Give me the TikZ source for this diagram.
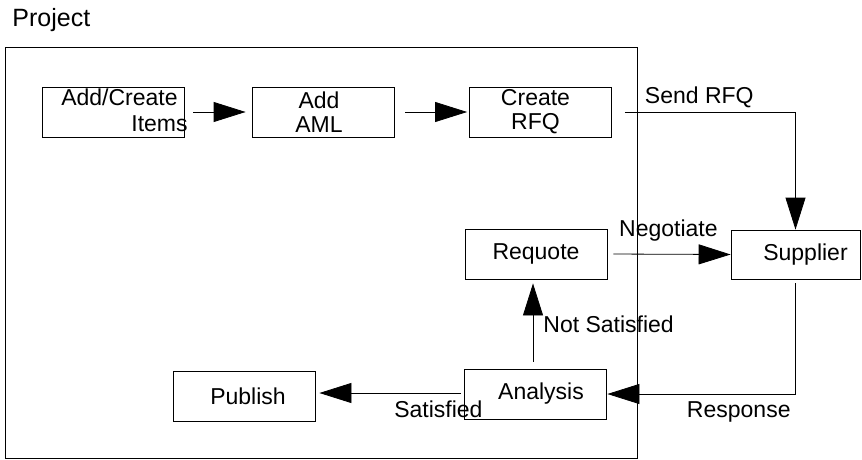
\documentclass[tikz,border=0pt]{standalone}
\usepackage{fontspec}
\setmainfont{Liberation Sans}
\usepackage{tikz}
\usetikzlibrary{arrows.meta}
\usetikzlibrary{positioning}

\begin{document}
\begin{tikzpicture}[
	x=1pt, y=-1pt,
	line width=0.8pt,
	font=\fontsize{23}{24}\selectfont
]
\tikzset{
    procbox/.style = {draw=black, align=center, minimum width=142pt, minimum height=50pt, inner sep=0pt},
		flowline/.style = {draw=black, -{Triangle[length=32pt,width=20pt]}},
		flowlabel/.style = {draw=none, inner sep=0pt, text=black}
}
\useasboundingbox (0,0) rectangle (862,460);
\node (title) [anchor=base west, inner sep=0pt, font=\fontsize{25}{27}\selectfont] at (12,27) {Project};
\draw (5,47) rectangle (637,458);
\node (items) [procbox] at (113,112) {};
\node (itemstext) [flowlabel, align=right, anchor=east, font=\fontsize{23}{26}\selectfont] at (188,110) {Add/Create\rule{10pt}{0pt}\\Items};
\node (aml) [procbox] at (323,112) {Add\rule{8pt}{0pt}\\AML\rule{8pt}{0pt}};
\node (rfq) [procbox] at (540.5,112) {Create\rule{10pt}{0pt}\\RFQ\rule{10pt}{0pt}};
\node (supplier) [procbox, minimum width=129pt, minimum height=49pt] at (795.5,254.5) {\rule{20pt}{0pt}Supplier};
\node (requote) [procbox] at (536,254) {Requote};
\node (analysis) [procbox] at (535,394) {\rule{12pt}{0pt}Analysis};
\node (publish) [procbox] at (244,396) {\rule{8pt}{0pt}Publish};

\draw[flowline, shorten <=9pt, shorten >=6pt] (items.east) -- (aml.west);
\draw[flowline, shorten <=11pt, shorten >=2pt] (aml.east) -- (rfq.west);
\draw[flowline, shorten <=13pt] (rfq.east) -| (supplier.north)
	node[flowlabel, pos=0.238, anchor=base, yshift=9pt] {Send RFQ};
\draw[flowline, shorten <=6pt] (requote.east) -- (supplier.west)
	node[flowlabel, pos=0.495, anchor=base, yshift=18pt] {Negotiate};
\draw[flowline, shorten <=4pt, shorten >=1pt] (supplier.south) |- (analysis.east)
	node[flowlabel, pos=0.65, anchor=base, yshift=-23pt] {Response};
\draw[flowline, shorten <=7pt, shorten >=4pt] ([xshift=-2pt]analysis.north) -- ([xshift=-3pt]requote.south)
	node[flowlabel, pos=0.4, anchor=base west, xshift=10pt] {Not Satisfied};
\draw[flowline, shorten <=3pt, shorten >=4pt] ([yshift=1pt]analysis.west) -- ([yshift=1pt]analysis.west -| publish.east)
	node[flowlabel, pos=0.17, anchor=base, yshift=-24pt] {Satisfied};
\end{tikzpicture}
\end{document}
